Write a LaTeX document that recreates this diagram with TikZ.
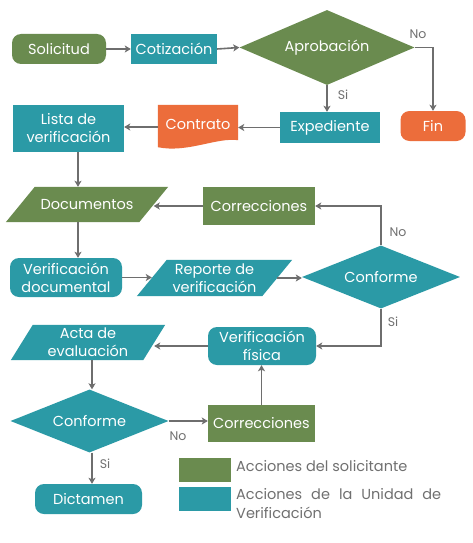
\documentclass[tikz,border=0pt]{standalone}
\usepackage{fontspec}
\setmainfont{Poppins}
\usetikzlibrary{shapes.geometric,arrows.meta,backgrounds,calc}
\definecolor{vgreen}{HTML}{6A8B4F}
\definecolor{vteal}{HTML}{2B9AA6}
\definecolor{vorange}{HTML}{EC6D3B}
\definecolor{vgray}{HTML}{6E6E6E}
\definecolor{vtext}{HTML}{707070}
\begin{document}
\begin{tikzpicture}[x=1pt,y=-1pt,
  box/.style={rectangle,inner sep=0pt,text=white,font=\fontsize{14.5}{18}\selectfont,align=center},
  rbox/.style={box,rounded corners=9pt},
  dia/.style={diamond,inner sep=0pt,text=white,font=\fontsize{14.5}{18}\selectfont,align=center},
  body/.style={box},
  arr/.style={draw=vgray,line width=1.6pt,-{Stealth[length=6pt,width=7pt,inset=1.5pt]}},
  lab/.style={text=vtext,font=\fontsize{12.5}{14}\selectfont,inner sep=0pt},
  legtxt/.style={text=vtext,font=\fontsize{14.5}{19}\selectfont,inner sep=0pt,anchor=north west,align=justify,
     execute at begin node={\hyphenpenalty=10000\exhyphenpenalty=10000}}]
\useasboundingbox (0,0) rectangle (473,543);

\node[rbox,fill=vgreen,minimum width=94pt,minimum height=30pt] (sol) at (59,49) {Solicitud};
\node[box,fill=vteal,minimum width=86pt,minimum height=30pt] (cot) at (174,49) {Cotización};
\node[dia,fill=vgreen,shape aspect=2.33,minimum width=175pt,minimum height=75pt] (apr) at (327,47.5) {Aprobación};
\node[rbox,fill=vorange,minimum width=65pt,minimum height=30pt] (fin) at (433,126) {Fin};
\node[box,fill=vteal,minimum width=100pt,minimum height=31pt] (exp) at (330,127.5) {Expediente};
\node[box,minimum width=80pt,minimum height=38pt] (con) at (198,124) {Contrato};
\node[box,fill=vteal,minimum width=111pt,minimum height=47pt] (lis) at (68.5,128.5) {Lista de\\verificación};

\node[body,minimum width=133pt,minimum height=35pt] (doc) at (87,204.5) {Documentos};
\node[box,fill=vgreen,minimum width=112pt,minimum height=38pt] (cor1) at (259,206) {Correcciones};
\node[dia,fill=vteal,shape aspect=2.5,minimum width=158pt,minimum height=63pt] (cf1) at (381,277) {Conforme};
\node[rbox,fill=vteal,minimum width=112pt,minimum height=39pt] (vd) at (66,277.5) {Verificación\\documental};
\node[body,minimum width=125pt,minimum height=36pt] (rep) at (214.5,278) {Reporte de\\verificación};
\node[rbox,fill=vteal,minimum width=108pt,minimum height=38pt] (vf) at (262,346) {Verificación\\física};
\node[body,minimum width=132pt,minimum height=35pt] (act) at (88,342.5) {Acta de\\evaluación};
\node[dia,fill=vteal,shape aspect=2.5,minimum width=158pt,minimum height=63pt] (cf2) at (89.5,421) {Conforme};
\node[box,fill=vgreen,minimum width=107pt,minimum height=37pt] (cor2) at (261.5,423.5) {Correcciones};
\node[rbox,fill=vteal,minimum width=107pt,minimum height=30pt] (dic) at (88.5,499) {Dictamen};

\begin{scope}[on background layer]
  \fill[white] (0,0) rectangle (473,543);
  % contrato document shape
  \fill[vorange] (con.north west) -- (con.north east) -- ($(con.south east)+(0,-3)$)
     .. controls ($(con.south east)+(-22,-6)$) and ($(con.south west)+(30,10)$) .. ($(con.south west)+(0,4)$) -- cycle;
  % parallelograms
  \fill[vgreen] ($(doc.north west)+(14.5,0)$) -- ($(doc.north east)+(14.5,0)$) -- ($(doc.south east)+(-14.5,0)$) -- ($(doc.south west)+(-14.5,0)$) -- cycle;
  \fill[vteal] ($(rep.north west)+(15,0)$) -- ($(rep.north east)+(15,0)$) -- ($(rep.south east)+(-15,0)$) -- ($(rep.south west)+(-15,0)$) -- cycle;
  \fill[vteal] ($(act.north west)+(11,0)$) -- ($(act.north east)+(11,0)$) -- ($(act.south east)+(-11,0)$) -- ($(act.south west)+(-11,0)$) -- cycle;
\end{scope}

% legend
\node[rectangle,fill=vgreen,minimum width=52pt,minimum height=24pt,inner sep=0pt] (lg1) at (205,470) {};
\node[rectangle,fill=vteal,minimum width=52pt,minimum height=24pt,inner sep=0pt] (lg2) at (205,499) {};
\node[legtxt] (lt1) at (236,460) {Acciones del solicitante};
\node[legtxt,text width=205pt] (lt2) at (236,488) {Acciones de la Unidad de Verificación};

% connectors
\draw[arr] (sol.east) -- (cot.west);
\draw[arr] (cot.east) -- (apr.west);
\draw[arr] (apr.east) -| (fin.north);
\node[lab] (no1) at (418,34) {No};
\draw[arr] (apr.south) -- (apr.south |- exp.north);
\node[lab] (si1) at (343,95) {Si};
\draw[arr] (exp.west) -- (exp.west -| con.east);
\draw[arr] (con.west |- 0,127) -- (lis.east |- 0,127);
\draw[arr] (78,0 |- lis.south) -- (78,0 |- doc.north);
\draw[arr] (cor1.west) -- (cor1.west -| doc.east);
\draw[arr] (cf1.north) |- (cor1.east);
\node[lab] (no2) at (398,232) {No};
\draw[arr] (78,0 |- doc.south) -- (78,0 |- vd.north);
\draw[arr] (vd.east) -- (vd.east -| rep.west);
\draw[arr] (rep.east) -- (rep.east -| cf1.west);
\draw[arr] (cf1.south) |- (vf.east);
\node[lab] (si2) at (393,322) {Si};
\draw[arr] (vf.west) -- (vf.west -| act.east);
\draw[arr] (92,0 |- act.south) -- (92,0 |- cf2.north);
\draw[arr] (cf2.east) -- (cf2.east -| cor2.west);
\node[lab] (no3) at (178,436) {No};
\draw[arr] (cor2.north) -- (cor2.north |- vf.south);
\draw[arr] (92,0 |- cf2.south) -- (92,0 |- dic.north);
\node[lab] (si3) at (105,464) {Si};
\end{tikzpicture}
\end{document}
